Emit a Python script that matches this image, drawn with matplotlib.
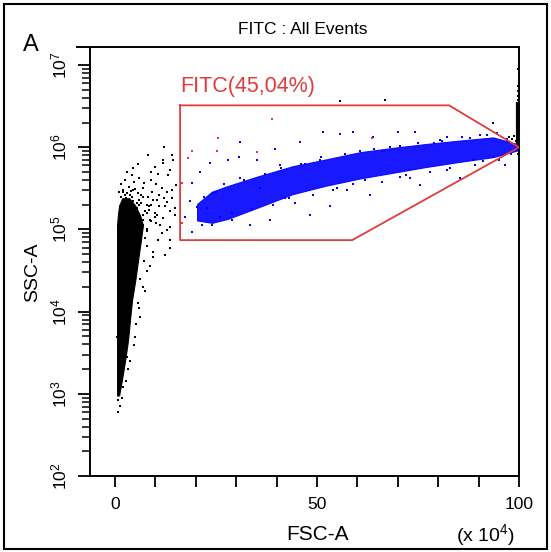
import numpy as np
import matplotlib
matplotlib.use("Agg")
import matplotlib.pyplot as plt
from matplotlib.ticker import FixedLocator, LogLocator, NullFormatter

plt.rcParams['font.family'] = ['Liberation Sans', 'DejaVu Sans']

# ---------------- data (FSC-A in units of 1e4, SSC-A as log10 value) ----------
# dense core of the black (ungated) population: log10 SSC rows, FSC left/right edges
black_core_logy = [2.98, 3.17, 3.41, 3.65, 3.90, 4.14, 4.38, 4.63, 4.87, 5.05, 5.17, 5.29, 5.38]
black_core_xlo  = [0.5, 0.5, 0.5, 0.5, 0.5, 0.5, 0.5, 0.5, 0.5, 0.5, 0.7, 1.0, 1.8]
black_core_xhi  = [1.0, 1.7, 2.5, 3.2, 3.7, 4.2, 5.0, 5.7, 6.4, 6.9, 6.2, 5.0, 3.5]

# scattered black events
black_x = [14.1, 11.9, 9.9, 10.6, 13.6, 14.4, 3.0, 4.2, 2.0, 3.7, 5.7, 6.9, 8.2, 10.4,
           12.9, 14.1, 14.9, 2.0, 1.2, 5.0, 7.4, 9.9, 11.9, 13.6, 12.9, 10.6, 13.6, 9.4,
           7.9, 6.9, 5.7, 6.2, 5.0, 3.0, 2.0, 0.7, 0.7, 0.7, 0.5, 2.0,
           11.9, 13.1, 14.1, 12.4, 14.9, 11.1, 13.6, 12.4, 15.1,
           6.0, 8.5, 4.5, 7.0, 9.0, 3.5, 5.5, 8.0, 6.5, 2.8, 4.0, 10.0, 7.5,
           1.5, 2.5, 3.5, 4.8, 6.0, 7.2, 8.8, 10.2, 11.5, 12.8, 2.2, 3.2, 4.3, 5.5,
           6.5, 7.8, 9.2, 10.8, 12.2, 13.5, 1.8, 6.8, 8.6, 10.2, 11.5, 8.0, 9.5, 7.2,
           8.6, 6.2, 7.5, 6.0, 5.2, 4.6, 3.8, 3.2, 2.6, 1.8, 1.2, 4.4, 5.8, 8.2, 12.0, 9.0,
           1.0, 2.0, 3.0, 4.0, 5.0, 6.0, 7.0, 8.0, 9.0, 1.5, 2.5, 3.5, 4.5, 5.5, 6.5, 7.5,
           8.5, 9.5, 10.5, 11.0, 7.0, 8.0, 6.5, 5.8,
           55.7, 66.8, 93.6]
black_logy = [5.90, 5.81, 5.76, 5.68, 5.72, 5.84, 5.70, 5.66, 5.45, 5.42, 5.44, 5.50, 5.39, 5.36,
              5.33, 5.38, 5.26, 5.26, 5.23, 5.21, 5.23, 5.20, 5.14, 5.03, 4.99, 4.87, 4.77, 4.66,
              4.50, 4.30, 4.10, 3.93, 3.69, 3.45, 3.29, 3.05, 2.92, 2.78, 3.69, 3.08,
              5.84, 5.66, 5.48, 5.29, 5.17, 5.05, 4.87, 4.69, 5.54,
              5.30, 5.28, 5.35, 5.12, 5.10, 5.33, 5.05, 5.00, 4.95, 5.38, 5.25, 5.15, 4.90,
              5.55, 5.60, 5.52, 5.58, 5.62, 5.56, 5.60, 5.55, 5.50, 5.45, 5.35, 5.30, 5.40, 5.32,
              5.42, 5.30, 5.45, 5.28, 5.38, 5.22, 5.15, 5.18, 5.12, 5.08, 4.96, 4.80, 4.72, 4.62,
              4.55, 4.40, 4.25, 4.05, 3.85, 3.60, 3.40, 3.30, 3.15, 2.95, 2.85, 5.75, 5.80, 5.90, 6.00, 5.70,
              5.46, 5.48, 5.44, 5.47, 5.49, 5.36, 5.40, 5.20, 5.30, 5.40, 5.42, 5.34, 5.48, 5.26,
              5.32, 5.22, 5.24, 5.36, 5.18, 5.42, 5.05, 4.98, 4.92, 5.10,
              6.56, 6.58, 6.30]

# events piled up at the FSC maximum
edge_x = [99.8, 99.8, 99.8, 99.8, 99.8, 99.8, 99.8, 98.2, 98.8, 99.2, 97.6]
edge_logy = [6.75, 6.68, 6.62, 6.58, 6.95, 6.45, 5.92, 6.10, 6.14, 6.08, 6.12]

# dense core of the gated (blue) population
blue_band_x      = [20.3, 24.0, 28.0, 35.0, 44.0, 52.0, 60.6, 70.0, 77.0, 85.0, 93.6, 99.5]
blue_band_center = [5.21, 5.27, 5.33, 5.45, 5.60, 5.69, 5.78, 5.85, 5.90, 5.95, 6.00, 6.00]
blue_band_half   = [0.10, 0.19, 0.20, 0.19, 0.17, 0.16, 0.16, 0.15, 0.14, 0.13, 0.12, 0.04]

# scattered blue events
blue_x = [30.9, 51.5, 55.7, 58.9, 70.0, 74.3, 45.8, 39.6, 35.1, 30.7, 28.0, 23.5, 21.0, 19.1,
          20.3, 17.3, 19.1, 26.0, 44.6, 57.4, 70.5, 82.2, 88.6, 93.6, 82.2, 90.3, 94.6, 63.9,
          35.9, 24.3, 22.8,
          33.4, 38.4, 48.3, 53.2, 63.1, 75.5, 85.4, 96.5, 40.8, 50.7, 60.6, 70.5, 80.4, 87.9,
          18.5, 21.5, 25.0, 29.0, 32.0, 42.0, 47.0, 55.0, 66.0, 72.0, 79.0, 91.0, 97.0, 62.0,
          22, 24, 27, 29, 31, 34, 37, 39, 41, 43, 46, 49, 51, 54, 57, 59, 64, 66, 68, 73,
          75, 78, 81, 83, 86, 89, 92, 95, 97, 98]
blue_logy = [6.06, 6.18, 6.16, 6.18, 6.18, 6.18, 6.06, 5.98, 5.84, 5.88, 5.85, 5.81, 5.70, 5.56,
             5.27, 5.15, 4.97, 5.15, 5.32, 5.48, 5.64, 5.72, 5.84, 5.88, 6.12, 6.15, 6.17, 6.12,
             5.51, 5.44, 5.26,
             5.05, 5.11, 5.17, 5.29, 5.42, 5.54, 5.62, 5.78, 5.78, 5.84, 5.96, 6.02, 6.09, 6.11,
             5.35, 5.05, 5.45, 5.12, 5.60, 5.38, 5.80, 5.50, 5.95, 5.66, 6.05, 5.83, 6.08, 5.60,
             5.40, 5.05, 5.55, 5.20, 5.62, 5.25, 5.68, 5.30, 5.75, 5.38, 5.80, 5.42, 5.88, 5.48,
             5.92, 5.55, 5.98, 5.58, 6.00, 5.62, 6.05, 5.70, 6.08, 5.75, 6.12, 5.78, 6.15, 5.85,
             6.10, 5.92]

# scattered red/pink events
red_x = [38.9, 25.5, 25.2, 19.1, 18.1, 63.6, 35.1, 16.6, 16.6]
red_logy = [6.34, 6.11, 5.95, 5.96, 5.87, 6.11, 5.94, 5.08, 5.56]

# gate polygon vertices
gate_x = [16.1, 82.7, 100.0, 58.7, 16.1, 16.1]
gate_logy = [6.51, 6.51, 6.00, 4.87, 4.87, 6.51]

gate_label = "FITC(45,04%)"
x_ticks = [0, 50, 100]
x_minor = [10, 20, 30, 40, 60, 70, 80, 90]
y_decades = [2, 3, 4, 5, 6, 7]

# ---------------- figure ----------------
W, H = 551, 552
fig = plt.figure(figsize=(W / 100, H / 100), dpi=100)
ax = fig.add_axes([90 / W, 1 - 476 / H, (519 - 90) / W, (476 - 47) / H])

ax.set_xlim(-6.2, 100)
ax.set_yscale('log')
ax.set_ylim(1e2, 10 ** 7.22)

blue = '#0000ff'
ax.fill_betweenx([10 ** v for v in black_core_logy], black_core_xlo, black_core_xhi,
                 color='black', lw=0.8, zorder=2)
ax.scatter(black_x, [10 ** v for v in black_logy], s=3.5, marker='s', c='black', lw=0, zorder=2)
ax.scatter(edge_x, [10 ** v for v in edge_logy], s=4, marker='s', c='black', lw=0, zorder=2, clip_on=False)
ax.vlines(99.75, 10 ** 5.95, 10 ** 6.55, color='black', lw=3, zorder=2)

lo = [10 ** (c - h) for c, h in zip(blue_band_center, blue_band_half)]
hi = [10 ** (c + h) for c, h in zip(blue_band_center, blue_band_half)]
ax.fill_between(blue_band_x, lo, hi, color=blue, lw=0.8, alpha=0.9, zorder=3)
ax.scatter(blue_x, [10 ** v for v in blue_logy], s=3.5, marker='s', c=blue, lw=0, zorder=3)
ax.scatter(red_x, [10 ** v for v in red_logy], s=3.5, marker='s', c='#e0306a', lw=0, zorder=3)

gate_col = '#e03c3c'
ax.plot(gate_x, [10 ** v for v in gate_logy], color=gate_col, lw=1.3, zorder=4)
ax.text(16.1, 10 ** 6.74, gate_label, color=gate_col, fontsize=15.5, ha='left', va='center')

# axes styling
for sp in ax.spines.values():
    sp.set_linewidth(1.4)
ax.xaxis.set_major_locator(FixedLocator(x_ticks))
ax.xaxis.set_minor_locator(FixedLocator(x_minor))
ax.set_xticklabels([str(t) for t in x_ticks])
ax.tick_params(axis='x', which='both', direction='out', length=8, width=1.3, pad=7, labelsize=12.5)

ax.yaxis.set_major_locator(FixedLocator([10.0 ** d for d in y_decades]))
ax.yaxis.set_minor_locator(LogLocator(base=10, subs=np.arange(2, 10), numticks=20))
ax.yaxis.set_minor_formatter(NullFormatter())
ax.set_yticklabels([r'$\mathregular{10^{%d}}$' % d for d in y_decades], rotation=90, va='center')
ax.tick_params(axis='y', which='major', direction='out', length=9, width=1.3, pad=6, labelsize=12.5)
ax.tick_params(axis='y', which='minor', direction='out', length=6, width=1.1)

# top frame line continues left past the y-axis
ax.plot([-0.03, 0], [1, 1], transform=ax.transAxes, color='black', lw=1.4, clip_on=False)

# texts
fig.text(303 / W, 1 - 29 / H, "FITC : All Events", ha='center', va='center', fontsize=12.5)
fig.text(31 / W, 1 - 45 / H, "A", ha='center', va='center', fontsize=17)
fig.text(33 / W, 1 - 272 / H, "SSC-A", ha='center', va='center', rotation=90, fontsize=14)
fig.text(318 / W, 1 - 535 / H, "FSC-A", ha='center', va='center', fontsize=15)
fig.text(485 / W, 1 - 535 / H, r"(x 10$\mathregular{^4}$)", ha='center', va='center', fontsize=14)

# outer frame
fig.add_artist(plt.Rectangle((4 / W, 3 / H), (547 - 4) / W, (548 - 3) / H,
                             transform=fig.transFigure, fill=False, lw=1.5, ec='black'))

fig.savefig('out.png', dpi=100, facecolor='white')
